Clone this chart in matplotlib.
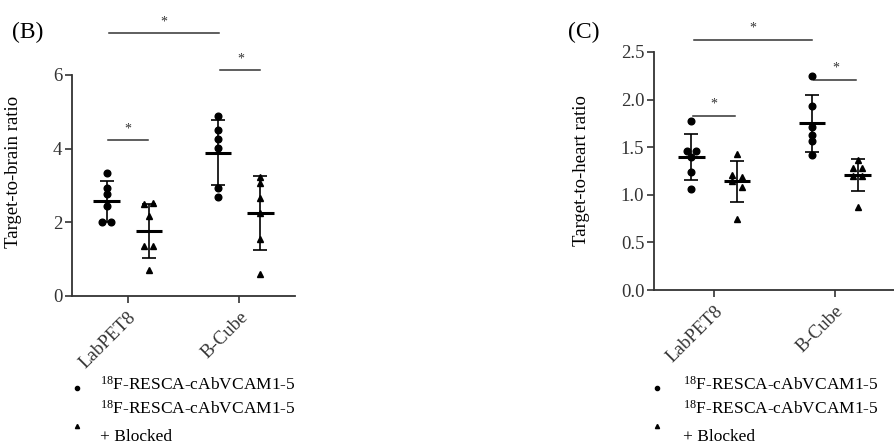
import matplotlib
matplotlib.use('Agg')
import matplotlib.pyplot as plt

plt.rcParams['font.family'] = ['Liberation Serif', 'DejaVu Serif']
plt.rcParams['mathtext.fontset'] = 'custom'
plt.rcParams['mathtext.rm'] = 'Liberation Serif'

# data
categories = ['LabPET8', 'B-Cube']

brain_tracer = [[3.35, 2.93, 2.77, 2.45, 2.01, 2.00],
                [4.90, 4.51, 4.27, 4.03, 2.93, 2.69]]
brain_blocked = [[2.52, 2.50, 2.16, 1.36, 1.36, 0.71],
                 [3.24, 3.07, 2.67, 2.26, 1.55, 0.60]]
brain_tracer_mean = [2.57, 3.89]
brain_tracer_sd = [0.55, 0.88]
brain_blocked_mean = [1.77, 2.25]
brain_blocked_sd = [0.74, 1.01]

heart_tracer = [[1.78, 1.46, 1.46, 1.40, 1.24, 1.06],
                [2.25, 1.93, 1.71, 1.63, 1.57, 1.42]]
heart_blocked = [[1.43, 1.21, 1.19, 1.14, 1.08, 0.75],
                 [1.37, 1.28, 1.28, 1.20, 1.20, 0.87]]
heart_tracer_mean = [1.40, 1.75]
heart_tracer_sd = [0.24, 0.30]
heart_blocked_mean = [1.14, 1.21]
heart_blocked_sd = [0.22, 0.17]

# horizontal spread of overlapping points (layout only)
brain_tracer_dx = [[0, 0, 0, 0, -0.04, 0.04], [0, 0, 0, 0, 0, 0]]
brain_blocked_dx = [[0.04, -0.04, 0, -0.04, 0.04, 0], [0, 0, 0, 0, 0, 0]]
heart_tracer_dx = [[0, -0.04, 0.04, 0, 0, 0], [0, 0, 0, 0, 0, 0]]
heart_blocked_dx = [[0, -0.04, 0.04, -0.04, 0.04, 0], [0, -0.04, 0.04, -0.04, 0.04, 0]]

fig = plt.figure(figsize=(8.95, 4.48), dpi=100)
W, H = 895, 448


def px_axes(left, top, width, height):
    return fig.add_axes([left / W, 1 - (top + height) / H, width / W, height / H])


def draw_panel(ax, tracer, blocked, t_mean, t_sd, b_mean, b_sd, t_dx, b_dx, half):
    off = 0.19
    for i in range(len(categories)):
        xc = i + 1 - off
        xb = i + 1 + off
        ax.plot([xc + d for d in t_dx[i]], tracer[i], 'o', color='black', ms=4.8, clip_on=False, zorder=3)
        ax.plot([xb + d for d in b_dx[i]], blocked[i], '^', color='black', ms=4.5, clip_on=False, zorder=3)
        ax.errorbar(xc, t_mean[i], yerr=t_sd[i], fmt='none', ecolor='black', elinewidth=1.2, capsize=4.7, capthick=1.2)
        ax.errorbar(xb, b_mean[i], yerr=b_sd[i], fmt='none', ecolor='black', elinewidth=1.2, capsize=4.7, capthick=1.2)
        ax.hlines(t_mean[i], xc - half, xc + half, color='black', lw=2.2)
        ax.hlines(b_mean[i], xb - half, xb + half, color='black', lw=2.2)
    ax.set_xlim(0.5, 2.5)
    ax.set_xticks([1, 2])
    ax.set_xticklabels(categories, rotation=45, ha='right', rotation_mode='anchor', fontsize=12.5)
    for s in ['top', 'right']:
        ax.spines[s].set_visible(False)
    for s in ['left', 'bottom']:
        ax.spines[s].set_linewidth(1.3)
        ax.spines[s].set_color('#333333')
    ax.tick_params(axis='both', length=5, width=1.2, colors='#333333', labelsize=13.5)
    ax.tick_params(axis='y', pad=2)
    ax.tick_params(axis='x', pad=4)


def sig(ax, x1, x2, y, dy):
    ax.plot([x1, x2], [y, y], color='#333333', lw=1.1, clip_on=False)
    ax.text((x1 + x2) / 2, y + dy, '*', ha='center', va='bottom', fontsize=10, color='#333333', clip_on=False)


# panel B
axb = px_axes(72, 75, 223, 221)
draw_panel(axb, brain_tracer, brain_blocked, brain_tracer_mean, brain_tracer_sd,
           brain_blocked_mean, brain_blocked_sd, brain_tracer_dx, brain_blocked_dx, 0.12)
axb.set_ylim(0, 6)
axb.set_yticks([0, 2, 4, 6])
axb.set_ylabel('Target-to-brain ratio', fontsize=13.5)
axb.yaxis.set_label_coords(-0.225, 0.56)
sig(axb, 0.83, 1.82, 7.13, 0.12)
sig(axb, 1.83, 2.19, 6.13, 0.12)
sig(axb, 0.82, 1.18, 4.23, 0.12)

# panel C
axc = px_axes(654, 52, 241, 238)
draw_panel(axc, heart_tracer, heart_blocked, heart_tracer_mean, heart_tracer_sd,
           heart_blocked_mean, heart_blocked_sd, heart_tracer_dx, heart_blocked_dx, 0.11)
axc.set_ylim(0, 2.5)
axc.set_yticks([0, 0.5, 1.0, 1.5, 2.0, 2.5])
axc.set_yticklabels(['0.0', '0.5', '1.0', '1.5', '2.0', '2.5'])
axc.set_ylabel('Target-to-heart ratio', fontsize=13.5)
axc.yaxis.set_label_coords(-0.266, 0.5)
sig(axc, 0.83, 1.81, 2.63, 0.05)
sig(axc, 0.82, 1.17, 1.83, 0.05)
sig(axc, 1.83, 2.18, 2.21, 0.05)

# panel letters
fig.text(12 / W, 1 - 32 / H, '(B)', fontsize=17, va='center', ha='left')
fig.text(568 / W, 1 - 32 / H, '(C)', fontsize=17, va='center', ha='left')

# legends
label1 = r'$\mathregular{^{18}}$F-RESCA-cAbVCAM1-5'
for mx, tx in [(77, 100), (657, 683)]:
    fig.add_artist(plt.Line2D([mx / W], [1 - 388 / H], marker='o', ms=3, color='black', ls='none'))
    fig.add_artist(plt.Line2D([mx / W], [1 - 426 / H], marker='^', ms=3, color='black', ls='none'))
    fig.text(tx / W, 1 - 385 / H, label1, fontsize=12.5, va='center', ha='left')
    fig.text(tx / W, 1 - 409 / H, label1, fontsize=12.5, va='center', ha='left')
    fig.text(tx / W, 1 - 437 / H, '+ Blocked', fontsize=12.5, va='center', ha='left')

fig.savefig('out.png', dpi=100)
